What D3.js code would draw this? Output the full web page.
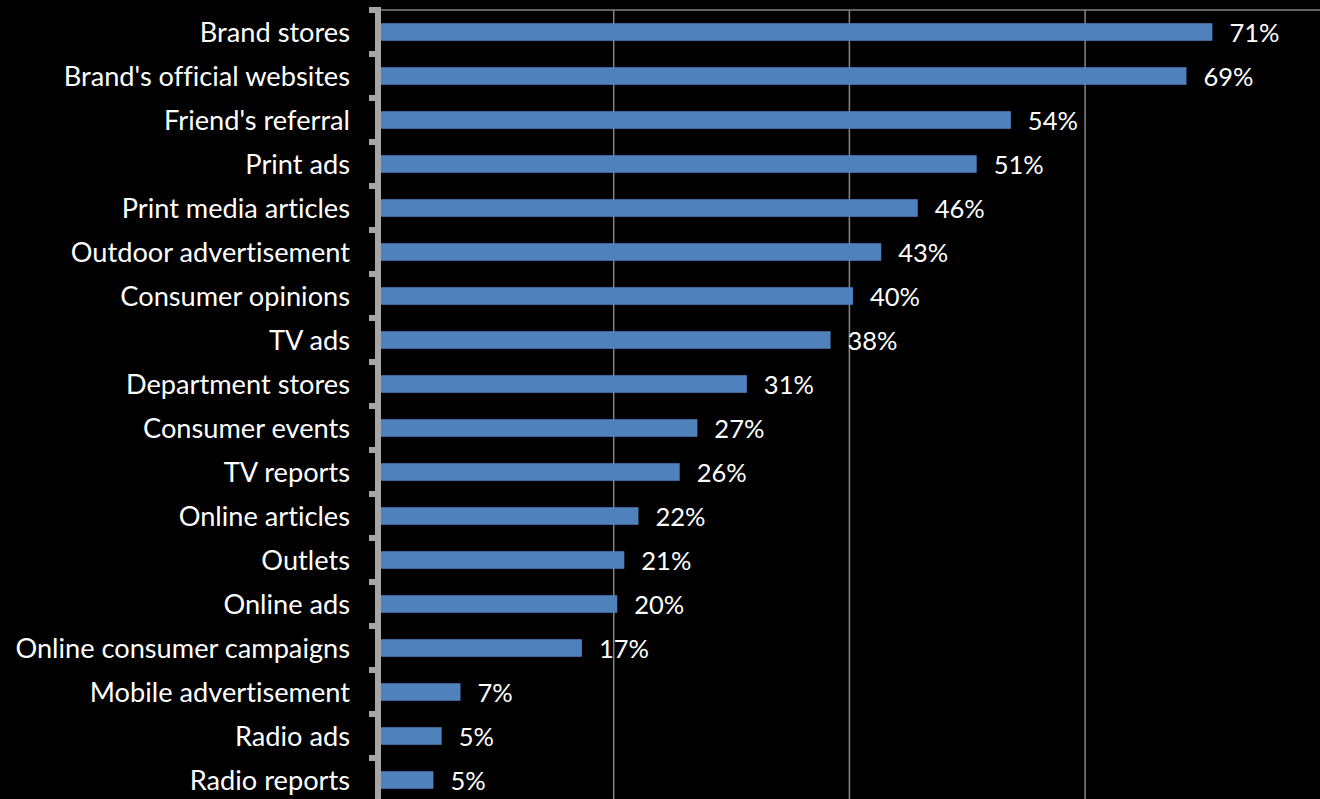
<!DOCTYPE html>
<html>
<head>
<meta charset="utf-8">
<script src="https://cdn.jsdelivr.net/npm/d3@7"></script>
<style>
  html, body { margin: 0; padding: 0; background: #000; }
  svg { display: block; }
  text { font-family: Lato, "Open Sans", sans-serif; fill: #fff; font-variant-ligatures: none; }
</style>
</head>
<body>
<svg id="chart" width="1320" height="799"></svg>
<script>
// Information sources, share of respondents (%)
const categories = [
  "Brand stores",
  "Brand's official websites",
  "Friend's referral",
  "Print ads",
  "Print media articles",
  "Outdoor advertisement",
  "Consumer opinions",
  "TV ads",
  "Department stores",
  "Consumer events",
  "TV reports",
  "Online articles",
  "Outlets",
  "Online ads",
  "Online consumer campaigns",
  "Mobile advertisement",
  "Radio ads",
  "Radio reports"
];
const values = [70.8, 68.6, 53.7, 50.8, 45.8, 42.7, 40.3, 38.4, 31.3, 27.1, 25.6, 22.1, 20.9, 20.3, 17.3, 7.0, 5.4, 4.7];
const gridTicks = [20, 40, 60, 80];

const W = 1320, H = 799;
const svg = d3.select("#chart");
svg.append("rect").attr("width", W).attr("height", H).attr("fill", "#000");

const plot = { left: 378, top: 10, right: 1320.8, bottom: 802 };

const x = d3.scaleLinear().domain([0, 80]).range([plot.left, plot.right]);
const y = d3.scaleBand().domain(categories).range([plot.top, plot.bottom])
  .paddingInner(0.6).paddingOuter(0.3);

// vertical gridlines
svg.append("g").selectAll("line").data(gridTicks).join("line")
  .attr("x1", d => x(d)).attr("x2", d => x(d))
  .attr("y1", plot.top).attr("y2", H)
  .attr("stroke", "#858585").attr("stroke-width", 1.5);

// top border of plot area
svg.append("line")
  .attr("x1", x(0)).attr("x2", W)
  .attr("y1", plot.top).attr("y2", plot.top)
  .attr("stroke", "#858585").attr("stroke-width", 1.5);

// bars
const data = categories.map((c, i) => ({ c, v: values[i] }));
svg.append("g").selectAll("rect").data(data).join("rect")
  .attr("x", x(0))
  .attr("y", d => y(d.c))
  .attr("width", d => x(d.v) - x(0))
  .attr("height", y.bandwidth())
  .attr("fill", "#4F81BD");

// value labels
svg.append("g").selectAll("text").data(data).join("text")
  .attr("x", d => x(d.v) + 17)
  .attr("y", d => y(d.c) + y.bandwidth() / 2)
  .attr("dy", "0.38em")
  .attr("font-size", 25.5)
  .text(d => Math.round(d.v) + "%");

// category labels
svg.append("g").selectAll("text").data(data).join("text")
  .attr("x", 350)
  .attr("y", d => y(d.c) + y.bandwidth() / 2)
  .attr("dy", "0.38em")
  .attr("text-anchor", "end")
  .attr("font-size", 27.2)
  .text(d => d.c);

// category axis: thick line with ticks at band boundaries
const step = y.step();
const bounds = categories.map(c => y(c) - step * y.paddingOuter());
const axis = svg.append("g");
axis.selectAll("line.tick").data(bounds).join("line")
  .attr("class", "tick")
  .attr("x1", x(0) - 9).attr("x2", x(0))
  .attr("y1", d => d).attr("y2", d => d)
  .attr("stroke", "#A6A6A6").attr("stroke-width", 6);
axis.append("line")
  .attr("x1", x(0)).attr("x2", x(0))
  .attr("y1", plot.top - 3).attr("y2", H)
  .attr("stroke", "#A6A6A6").attr("stroke-width", 6);
</script>
</body>
</html>
